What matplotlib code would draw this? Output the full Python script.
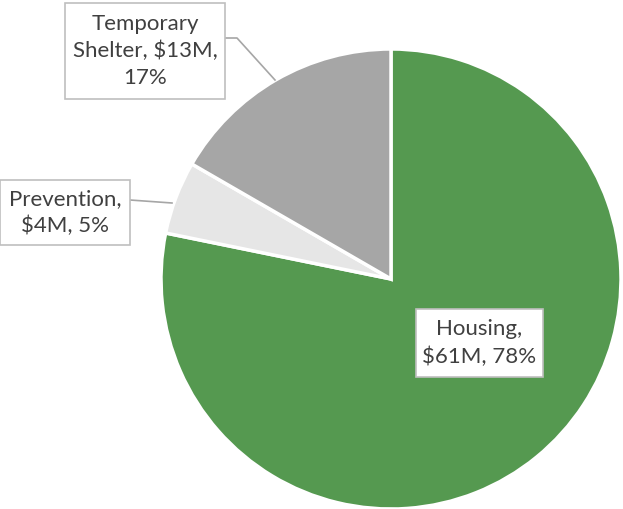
import matplotlib
matplotlib.use("Agg")
import matplotlib.pyplot as plt
from matplotlib.patches import Rectangle

categories = ["Housing", "Prevention", "Temporary Shelter"]
values = [61, 4, 13]          # $M
percents = [78, 5, 17]
colors = ["#559950", "#e6e6e6", "#a6a6a6"]

W, H = 623, 509
fig = plt.figure(figsize=(W / 100, H / 100), dpi=100)
ax = fig.add_axes([0, 0, 1, 1])

cx, cy, r = 391, H - 279, 230
ax.pie(values, colors=colors, startangle=90, counterclock=False,
       center=(cx, cy), radius=r, frame=True,
       wedgeprops=dict(edgecolor="white", linewidth=2.5))
ax.set_xlim(0, W)
ax.set_ylim(0, H)
ax.set_aspect("equal")
ax.axis("off")

texts = ["{},\n${}M, {}%".format(categories[0], values[0], percents[0]),
         "{},\n${}M, {}%".format(categories[1], values[1], percents[1]),
         "Temporary\nShelter, ${}M,\n{}%".format(values[2], percents[2])]

# boxes in pixel coords (x0, y0_top, x1, y1_bottom)
boxes = [(416, 309, 543, 377), (0, 180, 130, 245), (65, 3, 225, 99)]
for t, (x0, y0, x1, y1) in zip(texts, boxes):
    ax.add_patch(Rectangle((x0, H - y1), x1 - x0, y1 - y0, facecolor="white",
                           edgecolor="#bfbfbf", linewidth=1.2, zorder=5))
    ax.text((x0 + x1) / 2, H - (y0 + y1) / 2, t, ha="center", va="center",
            fontsize=16, color="#404040", family="Lato",
            linespacing=1.45, zorder=6)

# leader lines
ax.plot([130, 172], [H - 200, H - 203], color="#a6a6a6", lw=1.2, zorder=4)
ax.plot([225, 237, 275], [H - 38, H - 38, H - 80], color="#a6a6a6", lw=1.2, zorder=4)

fig.savefig("out.png", dpi=100)
